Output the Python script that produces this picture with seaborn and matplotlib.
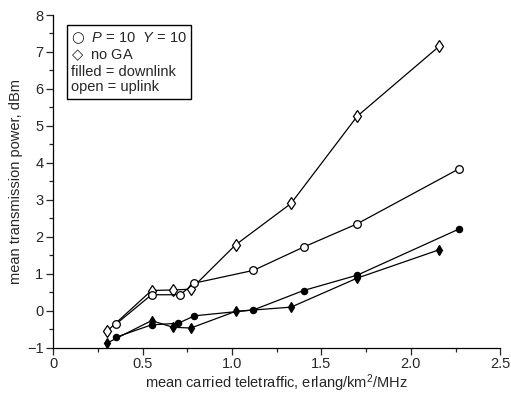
import numpy as np
import pandas as pd
import seaborn as sns
import matplotlib.pyplot as plt
from matplotlib.ticker import MultipleLocator

# P=10 Y=10 (circles) and no GA (diamonds), uplink open / downlink filled
x_ga_up = [0.35, 0.55, 0.71, 0.79, 1.12, 1.40, 1.70, 2.27]
y_ga_up = [-0.37, 0.43, 0.43, 0.745, 1.09, 1.72, 2.35, 3.84]
x_ga_down = [0.35, 0.55, 0.70, 0.79, 1.12, 1.40, 1.70, 2.27]
y_ga_down = [-0.72, -0.385, -0.34, -0.14, 0.02, 0.545, 0.96, 2.21]
x_nga_up = [0.30, 0.55, 0.67, 0.77, 1.02, 1.33, 1.70, 2.16]
y_nga_up = [-0.56, 0.545, 0.56, 0.58, 1.78, 2.9, 5.26, 7.16]
x_nga_down = [0.30, 0.55, 0.67, 0.77, 1.02, 1.33, 1.70, 2.16]
y_nga_down = [-0.88, -0.27, -0.45, -0.47, -0.02, 0.095, 0.88, 1.65]

sns.set_style("ticks")
plt.rcParams['font.family'] = ['Liberation Sans', 'DejaVu Sans']
plt.rcParams['mathtext.fontset'] = 'custom'
plt.rcParams['mathtext.it'] = 'Liberation Sans:italic'
plt.rcParams['mathtext.rm'] = 'Liberation Sans'
plt.rcParams['mathtext.sf'] = 'DejaVu Sans'

fig = plt.figure(figsize=(5.11, 3.95), dpi=100)
ax = fig.add_axes([0.104, 0.12, 0.875, 0.842])

series = [
    (x_nga_up, y_nga_up, 'd', 'white', 6.5),
    (x_ga_up, y_ga_up, 'o', 'white', 5.5),
    (x_nga_down, y_nga_down, 'd', 'black', 5.0),
    (x_ga_down, y_ga_down, 'o', 'black', 4.5),
]
for xs, ys, mk, fc, ms in series:
    df = pd.DataFrame({'x': xs, 'y': ys})
    sns.lineplot(data=df, x='x', y='y', ax=ax, sort=False, estimator=None,
                 color='black', linewidth=0.9, marker=mk, markersize=ms,
                 markerfacecolor=fc, markeredgecolor='black', markeredgewidth=0.9)

ax.set_xlim(0, 2.5)
ax.set_ylim(-1, 8)
ax.xaxis.set_major_locator(MultipleLocator(0.5))
ax.xaxis.set_minor_locator(MultipleLocator(0.25))
ax.yaxis.set_major_locator(MultipleLocator(1))
ax.yaxis.set_minor_locator(MultipleLocator(0.5))
ax.set_xticks([0, 0.5, 1.0, 1.5, 2.0, 2.5])
ax.set_xticklabels(['0', '0.5', '1.0', '1.5', '2.0', '2.5'])
ax.tick_params(which='major', direction='out', length=5, width=0.9, labelsize=10.5, pad=2)
ax.tick_params(which='minor', direction='out', length=3, width=0.9)
for s in ['top', 'right']:
    ax.spines[s].set_visible(False)
for s in ['left', 'bottom']:
    ax.spines[s].set_linewidth(0.9)
    ax.spines[s].set_color('black')

ax.set_xlabel('mean carried teletraffic, erlang/km$^2$/MHz', fontsize=10.5, labelpad=1)
ax.set_ylabel('mean transmission power, dBm', fontsize=10.5, labelpad=3)

legend_text = ("$\\mathsf{\u25cb}$  $P$ = 10  $Y$ = 10\n"
               "$\\mathsf{\u25c7}$  no GA\n"
               "filled = downlink\n"
               "open = uplink")
ax.text(0.04, 0.955, legend_text, transform=ax.transAxes, fontsize=10.5,
        va='top', ha='left', linespacing=1.15,
        bbox=dict(boxstyle='square,pad=0.3', facecolor='white', edgecolor='black', linewidth=1.0))

fig.savefig('out.png', dpi=100)
